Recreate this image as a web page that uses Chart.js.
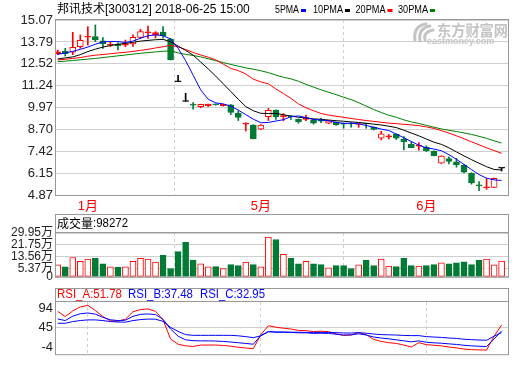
<!DOCTYPE html>
<html>
<head>
<meta charset="utf-8">
<script src="https://cdn.jsdelivr.net/npm/chart.js@4.4.1/dist/chart.umd.min.js"></script>
<style>
  html, body { margin: 0; padding: 0; background: #fff; }
  #wrap { position: relative; width: 520px; height: 365px; overflow: hidden; }
  canvas { position: absolute; left: 0; }
</style>
</head>
<body>
<div id="wrap">
  <canvas id="kline" width="520" height="214" style="top:0px"></canvas>
  <canvas id="vol" width="520" height="74" style="top:213px"></canvas>
  <canvas id="rsi" width="520" height="79" style="top:286px"></canvas>
</div>
<script>
// ---------- data ----------
const stockTitle  = "邦讯技术[300312] 2018-06-25 15:00";
const maLabels    = ["5PMA", "10PMA", "20PMA", "30PMA"];
const monthTicks  = [4, 27, 49];
const monthLabels = ["1月", "5月", "6月"];
const priceTicks  = [4.87, 6.15, 7.42, 8.70, 9.97, 11.24, 12.52, 13.79, 15.07];
const volTicks    = [0, 5.37, 13.56, 21.75, 29.95];
const rsiTicks    = [-4, 45, 94];
const lastVolume  = 98272;
const rsiNames    = ["RSI_A", "RSI_B", "RSI_C"];
const rsiLast     = [51.78, 37.48, 32.95];

const opens  = [13.11, 13.26, 13.19, 13.52, 14.07, 14.10, 13.86, 13.60, 13.66, 13.60,
                13.68, 14.06, 14.32, 14.21, 14.37, 13.95, 11.47, 10.32, 10.14, 10.02,
                10.08, 10.15, 10.08, 10.12, 9.63, 9.00, 8.95, 8.70, 9.43, 9.82,
                9.44, 9.45, 9.28, 9.28, 9.25, 9.24, 9.05, 9.11, 9.02, 9.03,
                8.98, 9.03, 8.81, 8.18, 8.26, 8.40, 8.13, 7.82, 7.72, 7.65,
                7.43, 6.72, 7.00, 6.81, 6.62, 6.13, 5.42, 5.29, 5.31, 6.44];
const closes = [13.22, 13.11, 13.48, 13.89, 14.12, 13.91, 13.69, 13.66, 13.58, 13.70,
                14.06, 14.39, 14.36, 14.33, 14.15, 12.74, 11.47, 10.32, 10.11, 10.16,
                10.17, 10.13, 10.15, 9.68, 9.39, 9.03, 8.16, 8.95, 9.80, 9.44,
                9.48, 9.42, 9.14, 9.38, 9.05, 9.17, 9.20, 8.97, 9.00, 9.01,
                9.02, 9.01, 8.69, 8.43, 8.30, 8.18, 7.98, 7.63, 7.76, 7.45,
                7.16, 7.14, 6.82, 6.62, 6.20, 5.58, 5.40, 5.32, 5.84, 6.44];
const highs  = [13.32, 13.42, 14.35, 14.20, 14.68, 14.78, 14.04, 13.78, 13.74, 13.90,
                14.20, 14.53, 14.72, 14.39, 14.68, 14.00, 11.85, 10.80, 10.26, 10.16,
                10.17, 10.18, 10.16, 10.15, 9.77, 9.08, 8.97, 8.97, 9.92, 9.84,
                9.61, 9.48, 9.31, 9.53, 9.28, 9.36, 9.22, 9.13, 9.05, 9.09,
                9.04, 9.05, 8.84, 8.58, 8.40, 8.43, 8.27, 7.98, 7.93, 7.74,
                7.45, 7.16, 7.10, 7.00, 6.65, 6.17, 5.65, 5.84, 5.86, 6.44];
const lows   = [13.05, 12.97, 13.05, 13.42, 13.61, 13.81, 13.42, 13.52, 13.33, 13.52,
                13.53, 14.00, 14.00, 14.02, 14.02, 12.74, 11.47, 10.32, 9.87, 9.95,
                10.02, 10.10, 10.05, 9.56, 9.21, 8.60, 8.14, 8.68, 9.21, 9.28,
                9.20, 9.27, 9.05, 9.20, 9.00, 9.08, 9.02, 8.93, 8.76, 8.82,
                8.82, 8.76, 8.66, 8.08, 8.13, 8.10, 7.50, 7.62, 7.48, 7.40,
                7.15, 6.70, 6.68, 6.49, 6.15, 5.50, 5.12, 5.20, 5.30, 6.27];
// 成交量, 万
const volumes = [8.1, 6.8, 13.2, 10.6, 12.1, 12.7, 8.9, 6.8, 6.4, 6.8,
                 10.6, 12.7, 12.1, 10.0, 14.7, 5.7, 17.2, 23.6, 11.5, 8.9,
                 6.8, 7.0, 5.7, 8.3, 7.6, 10.0, 8.3, 6.8, 27.2, 25.5,
                 15.3, 12.7, 8.9, 10.6, 8.9, 8.3, 6.2, 7.6, 7.6, 5.7,
                 8.1, 11.5, 7.6, 12.1, 7.4, 7.0, 12.7, 7.6, 7.4, 7.6,
                 8.3, 9.6, 8.9, 9.6, 10.2, 8.3, 11.5, 12.1, 8.1, 10.8];

const ma5  = [13.07, 13.15, 13.24, 13.36, 13.49, 13.66, 13.79, 13.82, 13.81, 13.76,
              13.84, 14.01, 14.15, 14.20, 14.16, 13.96, 13.42, 12.70, 11.85, 11.00,
              10.45, 10.24, 10.18, 10.05, 9.82, 9.55, 9.29, 9.08, 9.10, 9.18,
              9.26, 9.44, 9.48, 9.38, 9.27, 9.24, 9.20, 9.10, 9.05, 9.05,
              9.02, 8.92, 8.82, 8.71, 8.63, 8.42, 8.21, 7.99, 7.77, 7.62,
              7.55, 7.45, 7.22, 6.95, 6.65, 6.35, 6.06, 5.85, 5.75, 5.72];
const ma10 = [12.80, 12.86, 12.92, 13.05, 13.23, 13.37, 13.49, 13.58, 13.65, 13.71,
              13.77, 13.84, 13.88, 13.92, 13.94, 13.80, 13.55, 13.30, 13.02, 12.62,
              12.22, 11.80, 11.35, 10.90, 10.45, 10.02, 9.78, 9.63, 9.62, 9.62,
              9.55, 9.47, 9.40, 9.36, 9.31, 9.28, 9.24, 9.20, 9.17, 9.13,
              9.10, 9.05, 9.00, 8.95, 8.88, 8.80, 8.65, 8.48, 8.32, 8.13,
              7.95, 7.82, 7.62, 7.38, 7.15, 6.93, 6.72, 6.52, 6.36, 6.33];
const ma20 = [12.74, 12.78, 12.83, 12.88, 12.96, 13.02, 13.06, 13.10, 13.15, 13.19,
              13.24, 13.30, 13.36, 13.44, 13.51, 13.60, 13.50, 13.35, 13.18, 13.03,
              12.90, 12.75, 12.50, 12.25, 12.12, 11.92, 11.62, 11.46, 11.35, 11.05,
              10.78, 10.50, 10.18, 9.95, 9.78, 9.62, 9.53, 9.46, 9.40, 9.33,
              9.27, 9.21, 9.16, 9.11, 9.06, 9.03, 8.99, 8.96, 8.91, 8.84,
              8.75, 8.62, 8.48, 8.32, 8.15, 7.97, 7.80, 7.62, 7.46, 7.30];
const ma30 = [12.64, 12.67, 12.71, 12.75, 12.79, 12.83, 12.88, 12.93, 12.98, 13.03,
              13.08, 13.13, 13.17, 13.21, 13.25, 13.27, 13.15, 13.07, 13.00, 12.92,
              12.81, 12.70, 12.59, 12.48, 12.38, 12.28, 12.20, 12.11, 12.00, 11.86,
              11.73, 11.64, 11.50, 11.32, 11.16, 11.00, 10.86, 10.72, 10.57, 10.43,
              10.25, 10.05, 9.85, 9.68, 9.52, 9.40, 9.25, 9.13, 9.04, 8.93,
              8.82, 8.72, 8.64, 8.57, 8.49, 8.40, 8.29, 8.17, 8.03, 7.90];

const rsiA = [86, 73, 87, 97, 101, 88, 73, 62.4, 61.5, 66.5,
              85, 90.4, 92, 86, 65, 17, 4, 0, -1.5, 2,
              2, 2, 1, -1, -3.5, -5.5, -7, 28, 50, 46.5,
              44, 42, 38.5, 38, 35.5, 36.5, 35.5, 30, 26, 27,
              33, 28, 16, 11, 8, 6, 2, -3, 8, 3,
              1.5, 0, -3, -5, -8, -9.5, -10, -10.5, 24, 51.78];
const rsiB = [67, 63, 74, 80, 82, 79, 71, 65, 63, 64,
              73.5, 78.5, 79.5, 78, 66, 42, 24, 15, 13, 12.4,
              12.4, 12, 11, 9.5, 7.8, 6, 4, 26, 36, 34,
              34, 33.5, 32.5, 32.5, 31, 31.5, 31, 29, 27, 27.5,
              30, 27, 22, 19.5, 17.5, 15, 12.5, 10, 12.4, 9,
              7.5, 6.5, 5, 3.5, 1.5, 0, -1, -1.6, 17, 37.48];
const rsiC = [56.3, 56.3, 60.5, 63, 64.7, 64.7, 63, 60.5, 59.5, 59,
              63, 65.5, 66.7, 66.5, 61, 46, 36, 28, 26.2, 26.2,
              26.2, 26.2, 26.2, 26.2, 25, 23, 20.5, 25, 35, 34.5,
              34.5, 34, 34, 33.5, 33.5, 33.5, 33.5, 33, 32, 32,
              33, 31.5, 29.5, 28, 27.5, 27, 26, 25.5, 25.5, 23,
              22, 21, 19.5, 18.5, 16.5, 15.5, 14.5, 14, 24, 32.95];

// ---------- look ----------
const RED    = "#ff0000";
const GREEN  = "#007a35";
const BLUE   = "#0000ff";
const GRID   = "#cfcfcf";
const BORDER = "#999999";
const SANS   = "'Liberation Sans', 'Noto Sans CJK SC', sans-serif";
const X_MIN  = -0.23;
const X_MAX  = 59.85;

const dir = closes.map((c, i) => c > opens[i] ? 1 : (c < opens[i] ? -1 : 0));
const candleColor = dir.map(d => d > 0 ? RED : (d < 0 ? GREEN : "#000"));
const bodyFill = dir.map((d, i) => (d > 0 && closes[i] - opens[i] > 0.12) ? "#fff" : candleColor[i]);
const volUp = closes.map((c, i) => dir[i] !== 0 ? dir[i] > 0 : c >= (i > 0 ? closes[i - 1] : c));

const pts = arr => arr.map((v, i) => ({ x: i, y: v }));

function line(data, color) {
  return { type: "line", data: pts(data), borderColor: color, borderWidth: 1,
           pointRadius: 0, tension: 0, fill: false, order: 0 };
}

function xAxis(showLabels, height) {
  return {
    type: "linear", min: X_MIN, max: X_MAX, offset: false,
    afterBuildTicks: s => { s.ticks = monthTicks.map(v => ({ value: v })); },
    afterFit: s => { s.height = height; },
    ticks: { display: showLabels, autoSkip: false, maxRotation: 0, color: RED, padding: 4,
             font: { family: SANS, size: 13 }, callback: (v, i) => monthLabels[i] },
    grid: { color: GRID, drawTicks: false },
    border: { display: false, dash: [3, 3] }
  };
}

function yAxis(min, max, ticks, fmt, size, gridColor) {
  return {
    min, max,
    afterBuildTicks: s => { s.ticks = ticks.map(v => ({ value: v })); },
    afterFit: s => { s.width = 56; },
    ticks: { autoSkip: false, color: "#222", padding: 3, font: { family: SANS, size }, callback: fmt },
    grid: { color: gridColor, drawTicks: false },
    border: { display: false }
  };
}

function baseOptions(padTop, padBottom, scales) {
  return {
    responsive: false, animation: false, events: [],
    layout: { padding: { top: padTop, right: 12, bottom: padBottom, left: 0 } },
    plugins: { legend: { display: false }, tooltip: { enabled: false } },
    scales
  };
}

function panelFrame(ctx, a, top) {
  ctx.strokeStyle = BORDER;
  ctx.lineWidth = 1;
  ctx.strokeRect(a.left - 0.5, top + 0.5, a.right - a.left + 1, a.bottom - top);
  ctx.beginPath();
  ctx.moveTo(a.left - 0.5, a.top - 0.5);
  ctx.lineTo(a.right + 0.5, a.top - 0.5);
  ctx.stroke();
}

// ---------- K线 ----------
const klineDecor = {
  id: "klineDecor",
  beforeDatasetsDraw(chart) {
    const ctx = chart.ctx;
    ctx.save();
    ctx.fillStyle = "#c4c4c4";
    ctx.strokeStyle = "#c4c4c4";
    ctx.font = "bold 15px 'Noto Sans CJK SC'";
    ctx.textBaseline = "alphabetic";
    ctx.fillText("东方财富网", 437, 36, 71);
    ctx.font = "bold 9px 'Liberation Sans'";
    ctx.fillText("eastmoney.com", 427, 44, 81);
    ctx.lineWidth = 3;
    ctx.lineCap = "round";
    [[415, 40, 426, 24], [420, 41, 430, 26], [425, 40, 433, 30]].forEach(([x0, y0, x1, y1]) => {
      ctx.beginPath();
      ctx.moveTo(x0, y0);
      ctx.quadraticCurveTo(x0 - 2, y1 + 2, x1, y1);
      ctx.stroke();
    });
    ctx.restore();
  },
  afterDraw(chart) {
    const { ctx, chartArea: a } = chart;
    ctx.save();
    ctx.strokeStyle = BORDER;
    ctx.lineWidth = 1;
    ctx.strokeRect(a.left - 0.5, a.top - 0.5, a.right - a.left + 1, a.bottom - a.top + 1);
    ctx.fillStyle = "#000";
    ctx.textBaseline = "middle";
    ctx.font = "12px " + SANS;
    ctx.fillText(stockTitle, 57, 9.5, 197);
    const legendX = [275, 313, 355.5, 398];
    const colors = [BLUE, "#000", RED, "#008000"];
    ctx.font = "11px " + SANS;
    maLabels.forEach((t, i) => {
      const w = t.length * 6;
      ctx.fillStyle = "#000";
      ctx.fillText(t, legendX[i], 10, w);
      ctx.fillStyle = colors[i];
      ctx.fillRect(legendX[i] + w + 2, 9, 5, 3);
    });
    ctx.restore();
  }
};

new Chart(document.getElementById("kline"), {
  type: "bar",
  data: {
    datasets: [
      line(ma5, BLUE),
      line(ma10, "#000"),
      line(ma20, RED),
      line(ma30, "#008000"),
      { type: "bar", data: opens.map((o, i) => ({ x: i, y: [o, closes[i]] })),
        backgroundColor: bodyFill, borderColor: candleColor, borderWidth: 1, borderSkipped: false,
        barThickness: 6, minBarLength: 1, grouped: false, order: 1 },
      { type: "bar", data: lows.map((l, i) => ({ x: i, y: [l, highs[i]] })),
        backgroundColor: candleColor, borderWidth: 0, barThickness: 1, grouped: false, order: 2 }
    ]
  },
  options: baseOptions(20, 0, {
    x: xAxis(true, 19),
    y: yAxis(4.87, 15.07, priceTicks, v => v.toFixed(2), 13, GRID)
  }),
  plugins: [klineDecor]
});

// ---------- 成交量 ----------
const volDecor = {
  id: "volDecor",
  afterDraw(chart) {
    const { ctx, chartArea: a } = chart;
    ctx.save();
    panelFrame(ctx, a, 1);
    ctx.textBaseline = "middle";
    ctx.fillStyle = "#000";
    ctx.font = "12px 'Noto Sans CJK SC'";
    ctx.fillText("成交量", 57, 10.5);
    ctx.font = "12px " + SANS;
    ctx.fillText(":" + lastVolume, 93, 10.5, 35);
    ctx.restore();
  }
};

new Chart(document.getElementById("vol"), {
  type: "bar",
  data: {
    datasets: [{
      data: pts(volumes),
      backgroundColor: volUp.map(u => u ? "#fff" : GREEN),
      borderColor: volUp.map(u => u ? RED : GREEN),
      borderWidth: 1, borderSkipped: false, barThickness: 6, grouped: false
    }]
  },
  options: baseOptions(20, 7, {
    x: xAxis(false, 0),
    y: yAxis(0, 29.95, volTicks, v => v === 0 ? "0" : v.toFixed(2) + "万", 12, GRID)
  }),
  plugins: [volDecor]
});

// ---------- RSI ----------
const rsiDecor = {
  id: "rsiDecor",
  afterDraw(chart) {
    const { ctx, chartArea: a } = chart;
    ctx.save();
    panelFrame(ctx, a, 2);
    ctx.textBaseline = "middle";
    ctx.font = "12px " + SANS;
    const xs = [57, 128, 200];
    const colors = [RED, BLUE, BLUE];
    rsiNames.forEach((n, i) => {
      ctx.fillStyle = colors[i];
      ctx.fillText(n + ":" + rsiLast[i].toFixed(2), xs[i], 8.5, 65);
    });
    ctx.restore();
  }
};

new Chart(document.getElementById("rsi"), {
  type: "line",
  data: {
    datasets: [line(rsiC, BLUE), line(rsiB, BLUE), line(rsiA, RED)]
  },
  options: baseOptions(16, 1, {
    x: xAxis(false, 0),
    y: yAxis(-20.8, 109.3, rsiTicks, v => String(v), 13,
             c => (c.tick && c.tick.value === 45) ? GRID : "rgba(0,0,0,0)")
  }),
  plugins: [rsiDecor]
});
</script>
</body>
</html>
